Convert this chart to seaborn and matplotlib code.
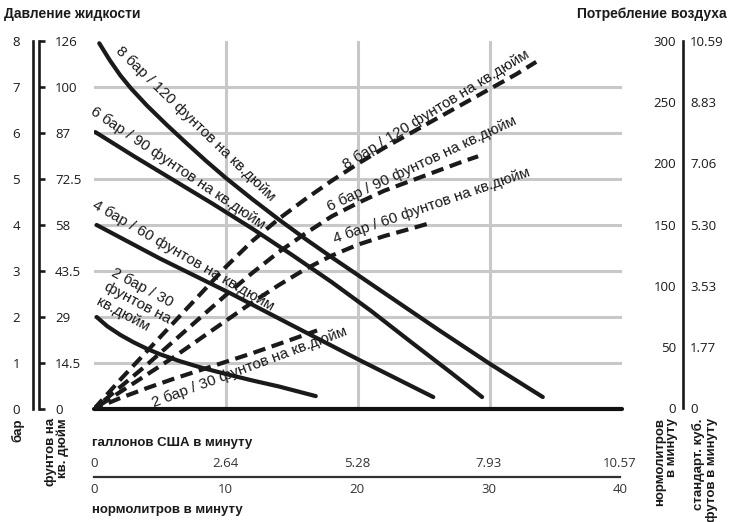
import matplotlib
matplotlib.use("Agg")
import matplotlib.pyplot as plt
import seaborn as sns

# fluid pressure (bar) vs flow (Nl/min) -- solid curves
flow_8 = [0.4, 1.2, 2.0, 2.8, 4, 5.5, 7, 8.5, 10, 12, 14, 16, 18, 20, 22, 24, 26, 28, 30, 32, 34]
bar_8 = [7.95, 7.58, 7.25, 6.97, 6.6, 6.18, 5.78, 5.39, 5.02, 4.56, 4.12, 3.7, 3.3, 2.91,
         2.52, 2.13, 1.74, 1.36, 0.98, 0.62, 0.26]
flow_6 = [0.1, 3, 6, 9, 12, 15, 18, 21, 24, 27, 29.4]
bar_6 = [6.02, 5.5, 4.98, 4.46, 3.92, 3.35, 2.76, 2.13, 1.46, 0.8, 0.26]
flow_4 = [0.2, 5, 10.3, 15, 20, 25.7]
bar_4 = [4.0, 3.27, 2.52, 1.82, 1.08, 0.26]
flow_2 = [0.2, 1, 2, 3, 4, 5, 6.5, 8, 10, 12, 14, 16.8]
bar_2 = [2.0, 1.8, 1.61, 1.45, 1.31, 1.19, 1.04, 0.91, 0.76, 0.62, 0.49, 0.28]

# air consumption (Nl/min) vs flow -- dashed curves
aflow_8 = [0, 2, 4, 6, 8, 10, 12, 14, 16, 18, 20, 22, 24, 26, 28, 30, 32, 33.5]
air_8 = [0, 24, 47, 70, 93, 116, 137, 155, 171, 186, 200, 213, 225, 237, 249, 261, 273, 283]
aflow_6 = [0, 2, 4, 6, 8, 10, 12, 14, 16, 18, 20, 22, 24, 26, 28, 29.1]
air_6 = [0, 18, 36, 55, 74, 93, 111, 128, 143, 157, 168, 178, 186, 194, 202, 206]
aflow_4 = [0, 2, 4, 6, 8, 10, 12, 14, 16, 18, 20, 22, 24, 25.6]
air_4 = [0, 14, 28, 42, 57, 72, 87, 101, 114, 125, 134, 141, 147, 152]
aflow_2 = [0, 2, 4, 6, 8, 10, 12, 14, 16.9]
air_2 = [0, 9, 17, 24.5, 31.5, 38.5, 45.5, 53, 64]

# axis tick labels
bar_ticks = [0, 1, 2, 3, 4, 5, 6, 7, 8]
psi_labels = ["0", "14.5", "29", "43.5", "58", "72.5", "87", "100", "126"]
air_ticks = [0, 50, 100, 150, 200, 250, 300]
scfm_labels = ["0", "1.77", "3.53", "5.30", "7.06", "8.83", "10.59"]
lpm_ticks = [0, 10, 20, 30, 40]
gpm_labels = ["0", "2.64", "5.28", "7.93", "10.57"]

sns.set_theme(style="white")
plt.rcParams["font.family"] = ["Liberation Sans", "DejaVu Sans"]

W, H = 731, 522
fig = plt.figure(figsize=(W / 100, H / 100), dpi=100)


def rect(x0, y0, x1, y1):
    return [x0 / W, 1 - y1 / H, max((x1 - x0) / W, 1e-5), max((y1 - y0) / H, 1e-5)]


def fpos(x, y):
    return x / W, 1 - y / H


tick_family = ["Open Sans", "DejaVu Sans"]
tick_size = 9.5
bold_font = ["Liberation Sans", "DejaVu Sans"]


def style_labels(labels):
    for t in labels:
        t.set_fontfamily(tick_family)
        t.set_fontsize(tick_size)


# main plot area
ax = fig.add_axes(rect(94, 41, 622, 409))
ax.set_xlim(0, 40)
ax.set_ylim(0, 8)
ax.set_xticks([10, 20, 30])
ax.set_yticks([1, 2, 3, 4, 5, 6, 7])
ax.grid(True, color="#c8c8c8", lw=2.2)
ax.tick_params(length=0, labelbottom=False, labelleft=False)
for s in ax.spines.values():
    s.set_visible(False)
ax.set_axisbelow(True)
ax.patch.set_alpha(0)
ax.axhline(0, color="#111111", lw=3, clip_on=False)

solid = dict(color="#1a1a1a", lw=3, solid_capstyle="round", solid_joinstyle="round", ax=ax)
for fx, by in [(flow_8, bar_8), (flow_6, bar_6), (flow_4, bar_4), (flow_2, bar_2)]:
    sns.lineplot(x=fx, y=by, **solid)

ax2 = ax.twinx()
ax2.set_ylim(0, 300)
ax2.axis("off")
dashed = dict(color="#1a1a1a", lw=3, ax=ax2)
for fx, ay, off in [(aflow_8, air_8, 0), (aflow_6, air_6, 1.5), (aflow_4, air_4, 3), (aflow_2, air_2, 0.8)]:
    sns.lineplot(x=fx, y=ay, linestyle=(off, (3, 1.6)), **dashed)
ax.set_xlim(0, 40)
ax2.set_xlim(0, 40)
ax.set_xlabel("")
ax.set_ylabel("")

lab = dict(fontsize=11, ha="center", va="center", rotation_mode="anchor", color="#1a1a1a")
ax.text(7.7, 6.2, "8 бар / 120 фунтов на кв.дюйм", rotation=-44, **lab)
ax.text(6.35, 5.24, "6 бар / 90 фунтов на кв.дюйм", rotation=-34, **lab)
ax.text(6.75, 3.33, "4 бар / 60 фунтов на кв.дюйм", rotation=-30, **lab)
ax.text(3.3, 2.3, "2 бар / 30\nфунтов на\nкв.дюйм", rotation=-28, multialignment="left", **lab)
ax2.text(25.9, 244, "8 бар / 120 фунтов на кв.дюйм", rotation=31.5, **lab)
ax2.text(24.8, 200, "6 бар / 90 фунтов на кв.дюйм", rotation=25, **lab)
ax2.text(25.6, 166, "4 бар / 60 фунтов на кв.дюйм", rotation=19, **lab)
ax2.text(11.8, 34, "2 бар / 30 фунтов на кв.дюйм", rotation=20.5, **lab)

# left axes: bar and psi
ax_bar = fig.add_axes(rect(33, 41, 33, 409))
ax_bar.set_ylim(0, 8)
ax_bar.set_yticks(bar_ticks)
ax_bar.set_xticks([])
for k, s in ax_bar.spines.items():
    s.set_visible(k == "left")
ax_bar.spines["left"].set_linewidth(1.9)
ax_bar.spines["left"].set_color("#1a1a1a")
ax_bar.tick_params(axis="y", direction="out", length=4.5, width=1.9, pad=5, colors="#1a1a1a")
style_labels(ax_bar.get_yticklabels())

ax_psi = fig.add_axes(rect(39, 41, 39, 409))
ax_psi.set_ylim(0, 8)
ax_psi.yaxis.tick_right()
ax_psi.set_yticks(bar_ticks)
ax_psi.set_yticklabels(psi_labels)
ax_psi.set_xticks([])
for k, s in ax_psi.spines.items():
    s.set_visible(k == "right")
ax_psi.spines["right"].set_linewidth(1.9)
ax_psi.spines["right"].set_color("#1a1a1a")
ax_psi.tick_params(axis="y", direction="out", length=4.5, width=1.9, pad=7, colors="#1a1a1a")
style_labels(ax_psi.get_yticklabels())

# right axes: Nl/min and scfm
ax_air = fig.add_axes(rect(683, 41, 683, 408))
ax_air.set_ylim(0, 300)
ax_air.set_yticks(air_ticks)
ax_air.set_xticks([])
for k, s in ax_air.spines.items():
    s.set_visible(k == "left")
ax_air.spines["left"].set_linewidth(1.9)
ax_air.spines["left"].set_color("#1a1a1a")
ax_air.tick_params(axis="y", direction="inout", length=6, width=1.9, pad=2, colors="#1a1a1a")
style_labels(ax_air.get_yticklabels())

ax_scfm = fig.add_axes(rect(683, 41, 683, 408))
ax_scfm.set_ylim(0, 300)
ax_scfm.yaxis.tick_right()
ax_scfm.set_yticks(air_ticks)
ax_scfm.set_yticklabels(scfm_labels)
ax_scfm.set_xticks([])
for s in ax_scfm.spines.values():
    s.set_visible(False)
ax_scfm.tick_params(axis="y", length=0, pad=5, colors="#1a1a1a")
style_labels(ax_scfm.get_yticklabels())

# bottom axis: Nl/min and US gpm
ax_x = fig.add_axes(rect(94, 477, 620, 477))
ax_x.set_xlim(0, 40)
ax_x.set_xticks(lpm_ticks)
ax_x.set_yticks([])
for k, s in ax_x.spines.items():
    s.set_visible(k == "bottom")
ax_x.spines["bottom"].set_linewidth(1.6)
ax_x.spines["bottom"].set_color("#333333")
ax_x.tick_params(axis="x", direction="inout", length=7, width=1.5, pad=1, colors="#333333")
style_labels(ax_x.get_xticklabels())

ax_g = fig.add_axes(rect(94, 477, 620, 477))
ax_g.set_xlim(0, 40)
ax_g.xaxis.tick_top()
ax_g.set_xticks(lpm_ticks)
ax_g.set_xticklabels(gpm_labels)
ax_g.set_yticks([])
for s in ax_g.spines.values():
    s.set_visible(False)
ax_g.tick_params(axis="x", length=0, pad=5, colors="#333333")
style_labels(ax_g.get_xticklabels())

# titles and axis names
tb = dict(family=bold_font, weight="bold", color="#1a1a1a")
fig.text(*fpos(4, 14), "Давление жидкости", ha="left", va="center", fontsize=10, **tb)
fig.text(*fpos(727, 14), "Потребление воздуха", ha="right", va="center", fontsize=10, **tb)
fig.text(*fpos(92, 443), "галлонов США в минуту", ha="left", va="center", fontsize=9.5, **tb)
fig.text(*fpos(92, 510), "нормолитров в минуту", ha="left", va="center", fontsize=9.5, **tb)
fig.text(*fpos(18, 418), "бар", ha="center", va="top", rotation=90, fontsize=9.5, **tb)
fig.text(*fpos(57, 418), "фунтов на\nкв. дюйм", ha="center", va="top", rotation=90,
         multialignment="right", fontsize=9.5, linespacing=1.05, **tb)
fig.text(*fpos(666, 418), "нормолитров\nв минуту", ha="center", va="top", rotation=90,
         multialignment="right", fontsize=9.5, linespacing=1.05, **tb)
fig.text(*fpos(705, 418), "стандарт. куб.\nфутов в минуту", ha="center", va="top", rotation=90,
         multialignment="right", fontsize=9.5, linespacing=1.05, **tb)

fig.savefig("out.png", dpi=100)
